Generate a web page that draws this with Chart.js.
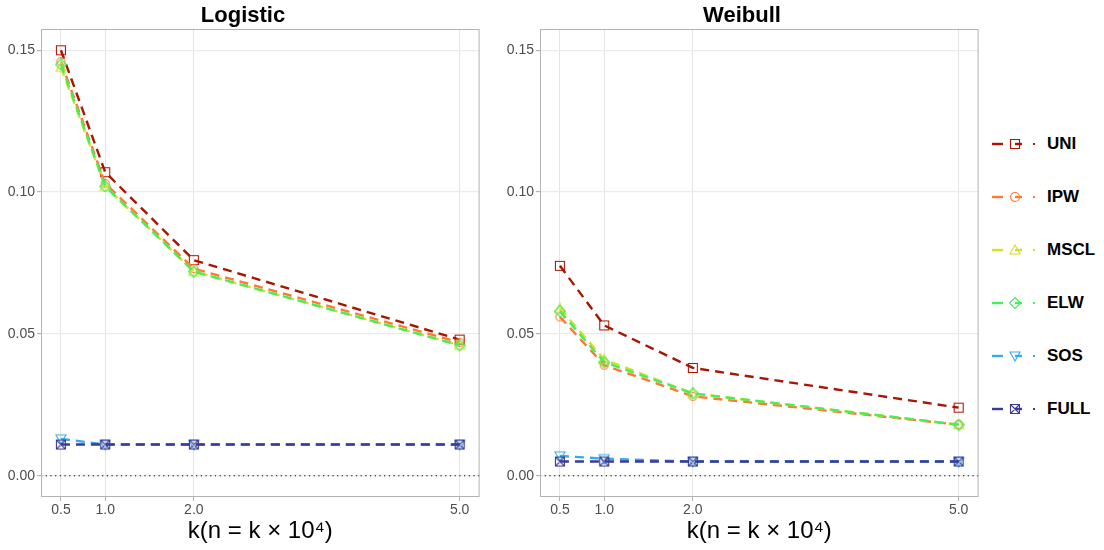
<!DOCTYPE html>
<html lang="en">
<head>
<meta charset="UTF-8">
<title>Logistic / Weibull</title>
<script src="https://cdn.jsdelivr.net/npm/chart.js"></script>
<style>
  body { margin: 0; background: #fff; font-family: "Liberation Sans", Arial, sans-serif; }
  .wrap { position: absolute; top: 0; width: 486px; height: 550px; }
  #legend { position: absolute; left: 988px; top: 0; }
  .item { position: absolute; left: 0; height: 20px; width: 120px; }
  .item span { position: absolute; left: 59px; top: 0; font-weight: bold; font-size: 17px; line-height: 20px; color: #000; }
</style>
</head>
<body>
<div class="wrap" style="left:0"><canvas id="c1"></canvas></div>
<div class="wrap" style="left:499px"><canvas id="c2"></canvas></div>
<div id="legend"></div>

<script>
// data
const kValues = [0.5, 1.0, 2.0, 5.0];
const methods = ['UNI', 'IPW', 'MSCL', 'ELW', 'SOS', 'FULL'];
const colors = ['#a81500', '#ff7a30', '#d4e024', '#44ee5e', '#36aaee', '#3b3a96'];
const shapes = ['square', 'circle', 'triangle', 'diamond', 'triangleDown', 'squareX'];

const logistic = {
  UNI:  [0.150, 0.107, 0.076, 0.048],
  IPW:  [0.146, 0.103, 0.073, 0.047],
  MSCL: [0.144, 0.102, 0.072, 0.046],
  ELW:  [0.145, 0.102, 0.072, 0.046],
  SOS:  [0.013, 0.011, 0.011, 0.011],
  FULL: [0.011, 0.011, 0.011, 0.011]
};
const weibull = {
  UNI:  [0.074, 0.053, 0.038, 0.024],
  IPW:  [0.056, 0.039, 0.028, 0.018],
  MSCL: [0.059, 0.041, 0.029, 0.018],
  ELW:  [0.058, 0.040, 0.029, 0.018],
  SOS:  [0.007, 0.006, 0.005, 0.005],
  FULL: [0.005, 0.005, 0.005, 0.005]
};
const xTicks = [0.5, 1.0, 2.0, 5.0];
const yTicks = [0, 0.05, 0.10, 0.15];
const refY = 0;

function marker(shape, color, size) {
  const c = document.createElement('canvas');
  c.width = size; c.height = size;
  const g = c.getContext('2d');
  const m = size / 2, r = size / 2 - 1;
  g.strokeStyle = color; g.lineWidth = 1.1;
  g.beginPath();
  if (shape === 'square' || shape === 'squareX') {
    g.rect(m - r + 0.5, m - r + 0.5, 2 * r - 1, 2 * r - 1);
    if (shape === 'squareX') {
      g.moveTo(m - r + 0.5, m - r + 0.5); g.lineTo(m + r - 0.5, m + r - 0.5);
      g.moveTo(m + r - 0.5, m - r + 0.5); g.lineTo(m - r + 0.5, m + r - 0.5);
    }
  } else if (shape === 'circle') {
    g.arc(m, m, r - 0.5, 0, Math.PI * 2);
  } else if (shape === 'triangle') {
    g.moveTo(m, 1); g.lineTo(size - 1, size - 2); g.lineTo(1, size - 2); g.closePath();
  } else if (shape === 'triangleDown') {
    g.moveTo(1, 2); g.lineTo(size - 1, 2); g.lineTo(m, size - 1); g.closePath();
  } else if (shape === 'diamond') {
    g.moveTo(m, 0.5); g.lineTo(size - 0.5, m); g.lineTo(m, size - 0.5); g.lineTo(0.5, m); g.closePath();
  }
  g.stroke();
  return c;
}

const refLine = {
  id: 'refLine',
  beforeDatasetsDraw(chart) {
    const { ctx, chartArea, scales } = chart;
    const y = scales.y.getPixelForValue(refY);
    ctx.save();
    ctx.strokeStyle = '#000'; ctx.lineWidth = 1.2;
    ctx.setLineDash([1.2, 3.5]);
    ctx.beginPath(); ctx.moveTo(chartArea.left, y); ctx.lineTo(chartArea.right, y); ctx.stroke();
    ctx.restore();
  },
  afterDraw(chart) {
    const { ctx, chartArea } = chart;
    ctx.save();
    ctx.strokeStyle = '#b3b3b3'; ctx.lineWidth = 1;
    ctx.strokeRect(chartArea.left + 0.5, chartArea.top + 0.5, chartArea.width - 1, chartArea.height - 1);
    ctx.restore();
  }
};

function makeChart(id, title, source) {
  const datasets = methods.map((m, i) => ({
    label: m,
    data: kValues.map((k, j) => ({ x: k, y: source[m][j] })),
    borderColor: colors[i],
    borderWidth: 2.4,
    borderDash: [9, 6],
    pointStyle: marker(shapes[i], colors[i], shapes[i] === 'circle' ? 11 : 12),
    order: methods.length - i,
    fill: false,
    tension: 0
  }));
  return new Chart(document.getElementById(id), {
    type: 'line',
    data: { datasets },
    plugins: [refLine],
    options: {
      responsive: false,
      animation: false,
      devicePixelRatio: 1,
      layout: { padding: { right: 0, left: 0, bottom: 0 } },
      plugins: {
        legend: { display: false },
        tooltip: { enabled: false },
        title: {
          display: true, text: title, color: '#000',
          font: { family: 'Liberation Sans', size: 22, weight: 'bold', lineHeight: 1 },
          padding: { top: 5, bottom: 2 }
        }
      },
      scales: {
        x: {
          type: 'linear', min: 0.275, max: 5.225,
          afterBuildTicks: s => { s.ticks = xTicks.map(v => ({ value: v })); },
          afterFit: s => { s.height = 53; },
          grid: { color: '#e5e5e5', tickColor: '#b3b3b3', tickLength: 4, lineWidth: 1 },
          border: { display: false },
          ticks: {
            color: '#4d4d4d', font: { family: 'Liberation Sans', size: 14 }, padding: 1,
            maxRotation: 0, callback: v => v.toFixed(1)
          },
          title: {
            display: true, text: 'k(n = k × 10⁴)', color: '#000',
            font: { family: 'Liberation Sans', size: 24 }, padding: { top: 0 }
          }
        },
        y: {
          min: -0.0075, max: 0.1575,
          afterBuildTicks: s => { s.ticks = yTicks.map(v => ({ value: v })); },
          afterFit: s => { s.width = 41; },
          grid: { color: '#ebebeb', tickColor: '#b3b3b3', tickLength: 4, lineWidth: 1.2 },
          border: { display: false },
          ticks: {
            color: '#4d4d4d', font: { family: 'Liberation Sans', size: 14 }, padding: 2,
            callback: v => v.toFixed(2)
          }
        }
      }
    }
  });
}

document.getElementById('c1').width = 486; document.getElementById('c1').height = 550;
document.getElementById('c2').width = 486; document.getElementById('c2').height = 550;
makeChart('c1', 'Logistic', logistic);
makeChart('c2', 'Weibull', weibull);

// legend
const legend = document.getElementById('legend');
methods.forEach((m, i) => {
  const y = 134 + i * 53;
  const div = document.createElement('div');
  div.className = 'item';
  div.style.top = y + 'px';
  const c = colors[i];
  const mk = marker(shapes[i], c, 12);
  const svg = `<svg width="50" height="20" style="position:absolute;left:0;top:0">
    <line x1="4" y1="10" x2="15" y2="10" stroke="${c}" stroke-width="2.4"/>
    <line x1="27" y1="10" x2="34" y2="10" stroke="${c}" stroke-width="2.4"/>
    <rect x="45" y="9" width="2" height="2" fill="${c}"/>
  </svg>`;
  div.innerHTML = svg + `<span>${m}</span>`;
  mk.style.position = 'absolute'; mk.style.left = '21px'; mk.style.top = '4px';
  div.appendChild(mk);
  legend.appendChild(div);
});
</script>
</body>
</html>
